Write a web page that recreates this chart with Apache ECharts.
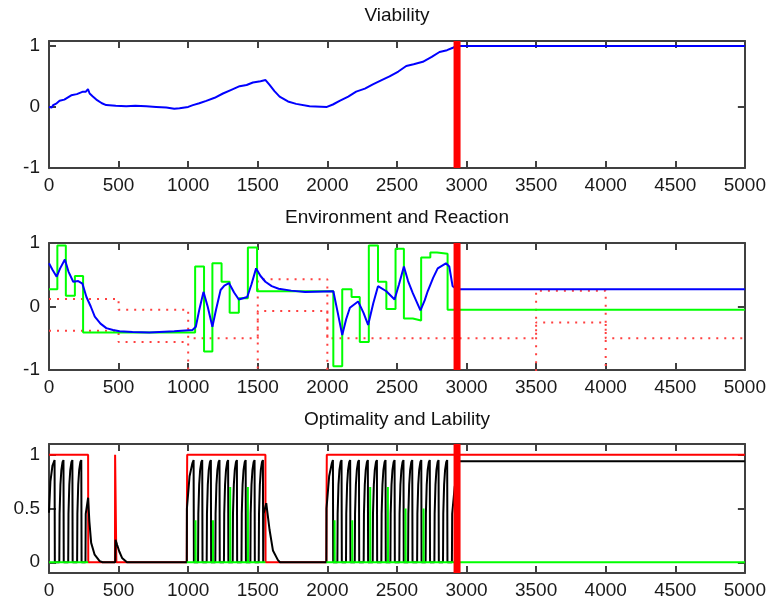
<!DOCTYPE html>
<html>
<head>
<meta charset="utf-8">
<title>Viability</title>
<script src="https://cdn.jsdelivr.net/npm/echarts@6/dist/echarts.min.js"></script>
<style>
  html, body { margin: 0; padding: 0; background: #fff; }
  #chart { width: 769px; height: 602px; }
</style>
</head>
<body>
<div id="chart"></div>
<script>
// --- data (time steps 0..5000) ---
const titles = ['Viability', 'Environment and Reaction', 'Optimality and Lability'];
const stopTime = 2932; // thick red marker

// viability (blue, top panel)
const viability = [
  [0, 0.0], [8, 0.02], [20, -0.01], [30, 0.03], [55, 0.06], [76, 0.10], [110, 0.12], [160, 0.19],
  [200, 0.21], [244, 0.25], [265, 0.25], [280, 0.29], [292, 0.22], [315, 0.17], [340, 0.12],
  [380, 0.06], [411, 0.03], [480, 0.02], [555, 0.01], [620, 0.02], [699, 0.01], [770, 0.0],
  [843, -0.01], [900, -0.03], [938, -0.02], [1000, 0.0], [1034, 0.03], [1080, 0.06], [1130, 0.10],
  [1190, 0.15], [1250, 0.22], [1310, 0.28], [1370, 0.34], [1420, 0.36], [1465, 0.40],
  [1520, 0.42], [1556, 0.44], [1585, 0.36], [1620, 0.26], [1657, 0.17], [1717, 0.09],
  [1776, 0.05], [1872, 0.01], [1997, 0.0], [2040, 0.04], [2088, 0.10], [2150, 0.17],
  [2207, 0.25], [2270, 0.30], [2327, 0.37], [2390, 0.44], [2447, 0.50], [2510, 0.58],
  [2567, 0.67], [2620, 0.70], [2686, 0.74], [2750, 0.82], [2806, 0.90], [2860, 0.93],
  [2902, 0.97], [2932, 1.0], [5000, 1.0]
];

// environment (green stairs, middle panel)
const envEdges = [0, 60, 121, 186, 245, 1050, 1114, 1174, 1240, 1298, 1364, 1429, 1495, 2043,
  2107, 2174, 2233, 2298, 2364, 2424, 2490, 2550, 2614, 2674, 2740, 2788, 2864, 5000];
const envLevels = [0.27, 0.96, 0.17, 0.48, -0.41, 0.63, -0.71, 0.68, 0.39, -0.10, 0.13, 0.93,
  0.24, -0.94, 0.27, 0.15, -0.56, 0.96, 0.39, -0.04, 0.91, -0.19, -0.22, 0.77, 0.85, 0.83, -0.05];

// reaction (blue, middle panel)
const reaction = [
  [0, 0.68], [25, 0.58], [55, 0.47], [80, 0.60], [114, 0.74], [140, 0.55], [174, 0.39],
  [210, 0.40], [240, 0.36], [269, 0.15], [300, 0.0], [329, -0.16], [370, -0.27], [412, -0.34],
  [460, -0.37], [507, -0.39], [600, -0.40], [721, -0.41], [900, -0.39], [1031, -0.37],
  [1055, -0.32], [1080, -0.05], [1110, 0.23], [1140, 0.0], [1174, -0.32], [1200, -0.05],
  [1233, 0.26], [1260, 0.33], [1293, 0.37], [1330, 0.22], [1364, 0.11], [1424, 0.15],
  [1455, 0.35], [1488, 0.60], [1520, 0.48], [1555, 0.39], [1600, 0.32], [1650, 0.28],
  [1740, 0.25], [1840, 0.23], [2043, 0.24], [2075, -0.10], [2107, -0.45], [2135, -0.20],
  [2162, -0.02], [2221, 0.08], [2260, -0.10], [2293, -0.29], [2330, 0.05], [2364, 0.32],
  [2424, 0.24], [2483, 0.11], [2515, 0.35], [2550, 0.63], [2580, 0.40], [2614, 0.21],
  [2669, -0.06], [2700, 0.10], [2721, 0.24], [2760, 0.45], [2793, 0.60], [2852, 0.68],
  [2876, 0.63], [2900, 0.32], [2932, 0.27], [5000, 0.27]
];

// tolerance band (red dotted stairs, middle panel)
const bandEdges = [0, 500, 1000, 1500, 2000, 3500, 4000, 5000];
const bandUpper = [0.12, -0.05, -0.50, 0.43, -0.50, 0.25, -0.50];
const bandLower = [-0.38, -0.56, -1.05, -0.07, -1.05, -0.25, -1.05];

// optimality (red, bottom panel)
const optimality = [
  [0, 1], [281, 1], [282, 0], [474, 0], [475, 1], [483, 1], [484, 0], [990, 0], [991, 0.5],
  [993, 1], [1555, 1], [1556, 0], [1993, 0], [1994, 0.5], [1996, 1], [5000, 1]
];

// lability (black, bottom panel): tooth peaks + tooth profile + start/end pieces
const toothDt = [-30, -28, -22, -15, -7, 0, 2];
const toothV = [0, 0.45, 0.72, 0.86, 0.93, 0.95, 0];
const peaks1 = [104, 168, 232];
const peaks2 = [1101, 1163, 1225, 1287, 1350, 1413, 1477, 1537];
const peaks3 = [2102, 2164, 2227, 2291, 2356, 2418, 2483, 2547, 2610, 2675, 2736, 2799, 2861];
const labStart1 = [[0, 0.46], [10, 0.75], [25, 0.9], [40, 0.95], [42, 0]];
const labEnd1 = [[262, 0], [264, 0.45], [281, 0.6], [290, 0.38], [303, 0.18], [328, 0.07], [364, 0.01], [385, 0]];
const labBlip = [[476, 0], [478, 0.21], [490, 0.16], [505, 0.10], [525, 0.04], [560, 0]];
const labStart2 = [[990, 0], [991, 0.5], [1010, 0.8], [1030, 0.92], [1039, 0.95], [1041, 0]];
const labEnd2 = [[1540, 0], [1542, 0.45], [1561, 0.55], [1585, 0.30], [1609, 0.11], [1645, 0.02], [1660, 0]];
const labStart3 = [[1993, 0], [1994, 0.5], [2013, 0.8], [2032, 0.92], [2040, 0.95], [2042, 0]];
const labEnd3 = [[2895, 0], [2897, 0.45], [2915, 0.70], [2932, 0.80], [2932, 0.94], [5000, 0.94]];

// green spikes (bottom panel), shown only while active
const activeSpans = [[0, 281], [990, 1555], [1993, 5000]];
const spikes = [[1053, 0.39], [1178, 0.39], [1302, 0.70], [1429, 0.70],
  [2052, 0.39], [2179, 0.39], [2308, 0.70], [2435, 0.70], [2562, 0.50], [2691, 0.50]];

// --- build series data ---
function stairs(edges, levels) {
  const pts = [];
  levels.forEach((v, i) => { pts.push([edges[i], v], [edges[i + 1], v]); });
  return pts;
}
function teeth(peaks) {
  return peaks.flatMap((p) => toothDt.map((d, k) => [p + d, toothV[k]]));
}
const lability = [].concat(labStart1, teeth(peaks1), labEnd1, labBlip, labStart2, teeth(peaks2),
  labEnd2, labStart3, teeth(peaks3), labEnd3);
const greenSegs = activeSpans.map(([a, b]) => {
  const pts = [[a, 0]];
  spikes.filter(([t]) => t > a && t < b).forEach(([t, v]) => { pts.push([t, 0], [t, v], [t + 1, 0]); });
  pts.push([b, 0]);
  return pts;
});

// --- layout ---
const gridTops = [41, 243, 444];
const gridHeights = [127, 127, 129];
const yRanges = [[-1, 1.08], [-1, 1], [-0.1, 1.1]];
const yTicks = [[-1, 0, 1], [-1, 0, 1], [0, 0.5, 1]];
const titleTops = [6, 208, 410];

const axisColor = '#404040';
const font = 'Liberation Sans, Arial, sans-serif';

const xAxes = [];
const yAxes = [];
gridTops.forEach((_, i) => {
  ['bottom', 'top'].forEach((pos) => {
    xAxes.push({
      type: 'value', gridIndex: i, position: pos, min: 0, max: 5000, interval: 500,
      axisLine: { onZero: false, lineStyle: { color: axisColor, width: 2 } },
      axisTick: { inside: true, length: 7, lineStyle: { color: axisColor, width: 2 } },
      axisLabel: {
        show: pos === 'bottom', color: '#1a1a1a', fontSize: 19, fontFamily: font, margin: 8,
        formatter: (v) => String(v),
      },
      splitLine: { show: false },
    });
  });
  ['left', 'right'].forEach((pos) => {
    yAxes.push({
      type: 'value', gridIndex: i, position: pos, min: yRanges[i][0], max: yRanges[i][1],
      axisLine: { onZero: false, lineStyle: { color: axisColor, width: 2 } },
      axisTick: { inside: true, length: 7, customValues: yTicks[i], lineStyle: { color: axisColor, width: 2 } },
      axisLabel: {
        show: pos === 'left', customValues: yTicks[i], color: '#1a1a1a', fontSize: 19, fontFamily: font, margin: 9,
        formatter: (v) => String(v),
      },
      splitLine: { show: false },
    });
  });
});

function line(data, grid, color, width, extra) {
  return Object.assign({
    type: 'line', data, xAxisIndex: grid * 2, yAxisIndex: grid * 2,
    symbol: 'none', lineStyle: { color, width }, silent: true, clip: true,
  }, extra || {});
}

const option = {
  backgroundColor: '#fff',
  animation: false,
  title: titles.map((t, i) => ({
    text: t, left: 397, top: titleTops[i], textAlign: 'center', padding: 0,
    textStyle: { fontSize: 19, fontWeight: 'normal', color: '#111', fontFamily: font },
  })),
  grid: gridTops.map((top, i) => ({ left: 49, top, width: 696, height: gridHeights[i] })),
  xAxis: xAxes,
  yAxis: yAxes,
  series: [
    line(viability, 0, '#0000ff', 2),
    line([[stopTime, yRanges[0][0]], [stopTime, yRanges[0][1]]], 0, '#ff0000', 7),

    line(stairs(bandEdges, bandUpper), 1, '#ff3030', 2, { lineStyle: { color: '#ff4040', width: 2, type: [2, 6] } }),
    line(stairs(bandEdges, bandLower), 1, '#ff3030', 2, { lineStyle: { color: '#ff4040', width: 2, type: [2, 6] } }),
    line(stairs(envEdges, envLevels), 1, '#00ff00', 2),
    line(reaction, 1, '#0000ff', 2),
    line([[stopTime, yRanges[1][0]], [stopTime, yRanges[1][1]]], 1, '#ff0000', 7),

    line(optimality, 2, '#ff0000', 2),
    line(lability, 2, '#000000', 2),
    ...greenSegs.map((seg) => line(seg, 2, '#00ff00', 2)),
    line([[stopTime, yRanges[2][0]], [stopTime, yRanges[2][1]]], 2, '#ff0000', 7),
  ],
};

const chart = echarts.init(document.getElementById('chart'));
chart.setOption(option);
</script>
</body>
</html>
